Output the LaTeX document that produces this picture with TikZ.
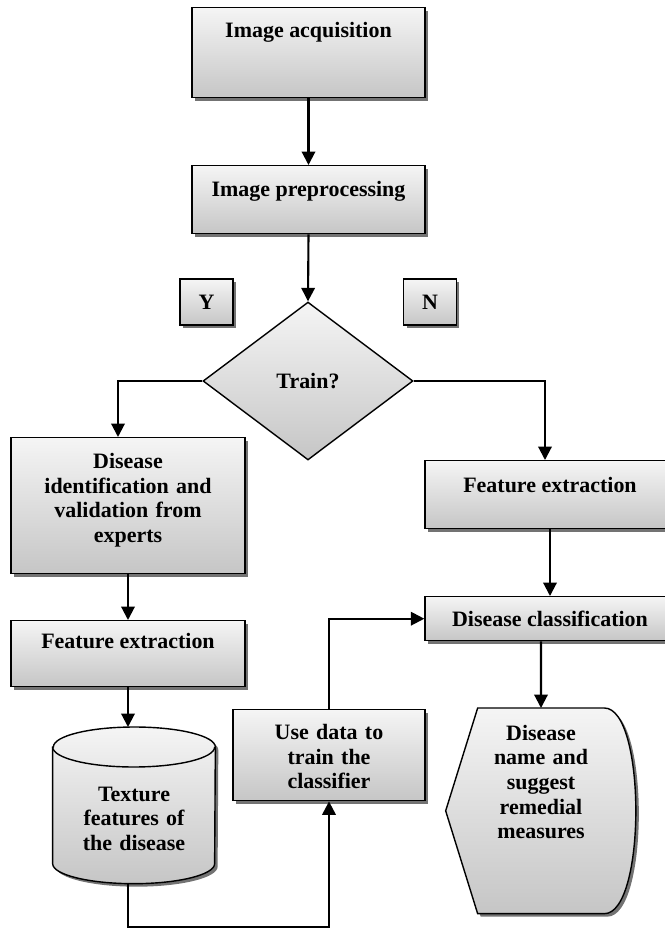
\documentclass[tikz,border=0pt]{standalone}
\usepackage{fontspec}
\setmainfont{Liberation Serif}
\usetikzlibrary{arrows.meta,shapes.geometric,shadows,backgrounds}

\begin{document}
\begin{tikzpicture}[
            x=0.02cm, y=-0.02cm,
            box/.style={
                rectangle,
                draw=black,
                line width=0.8pt,
                top color=gray!8,
                bottom color=gray!45,
                drop shadow={shadow xshift=0.06cm, shadow yshift=-0.06cm, fill=black!55, opacity=1},
                inner xsep=2pt,
                inner ysep=0pt,
                anchor=north,
                align=center,
                font=\bfseries\fontsize{12.5}{14}\selectfont
            },
            yn/.style={
                box,
                anchor=center,
                minimum width=1.06cm,
                minimum height=0.92cm
            },
            dec/.style={
                diamond,
                draw=black,
                line width=0.8pt,
                top color=gray!8,
                bottom color=gray!45,
                inner sep=0pt,
                minimum width=4.2cm,
                minimum height=3.16cm,
                aspect=1.33,
                font=\bfseries\fontsize{12.5}{14}\selectfont
            },
            bare/.style={
                rectangle,
                inner sep=0pt,
                anchor=north,
                align=center,
                font=\bfseries\fontsize{12.5}{14}\selectfont
            },
            outline/.style={
                line width=0.8pt,
                top color=gray!8,
                bottom color=gray!45,
                drop shadow={shadow xshift=0.06cm, shadow yshift=-0.06cm, fill=black!55, opacity=1}
            },
            line/.style={
                line width=1.2pt,
                -{Triangle[length=0.27cm,width=0.27cm]}
            }
        ]

        \useasboundingbox (0,0) rectangle (665,930);

        % nodes
        \node[box, minimum width=4.66cm, text height=0.6cm, text depth=1.2cm] (acq) at (308.5, 7) {Image acquisition};
        \node[box, minimum width=4.66cm, text height=0.62cm, text depth=0.74cm] (pre) at (308.5, 165) {Image preprocessing};
        \node[yn] (ybox) at (206.5, 302) {Y};
        \node[yn] (nbox) at (430, 302) {N};
        \node[dec] (train) at (308, 381) {Train?};
        \node[box, minimum width=4.68cm, text width=4.3cm, text height=0.62cm, text depth=2.1cm] (idexp) at (128, 437) {Disease\\identification and\\validation from\\experts};
        \node[box, minimum width=4.68cm, text height=0.56cm, text depth=0.76cm] (featl) at (128, 620) {Feature extraction};
        \node[bare, minimum width=3.24cm, text width=2.6cm, text height=1.48cm, text depth=1.64cm] (db) at (134, 727) {Texture\\features of\\the disease};
        \node[box, minimum width=3.84cm, text width=3.6cm, text height=0.6cm, text depth=1.22cm] (use) at (329, 709) {Use data to\\train the\\classifier};
        \node[box, minimum width=5cm, text height=0.64cm, text depth=0.72cm] (featr) at (550, 460) {Feature extraction};
        \node[box, minimum width=5cm, text height=0.6cm, text depth=0.28cm] (class) at (550, 596) {Disease classification};
        \node[bare, text width=2.52cm, text height=0.64cm, text depth=3.46cm] (res) at (541, 708) {Disease\\name and\\suggest\\remedial\\measures};

        % shapes behind the texts
        \begin{scope}[on background layer]
            % cylinder
            \draw[outline] ([yshift=-0.4cm]db.north west) -- ([yshift=0.4cm]db.south west)
                arc[start angle=180, end angle=360, x radius=1.62cm, y radius=0.4cm]
                -- ([yshift=-0.4cm]db.north east)
                arc[start angle=0, end angle=180, x radius=1.62cm, y radius=0.4cm] -- cycle;
            \draw[line width=0.8pt] ([yshift=-0.4cm]db.north west)
                arc[start angle=180, end angle=360, x radius=1.62cm, y radius=0.4cm];
            % display
            \draw[outline] (res.north west) -- (res.north east)
                .. controls ([xshift=0.84cm]res.north east) and ([xshift=0.84cm]res.south east) .. (res.south east)
                -- (res.south west) -- ([xshift=-0.64cm]res.west) -- cycle;
        \end{scope}

        % lines
        \draw[line] (acq.south) -- (pre.north);
        \draw[line] (pre.south) -- (train.north);
        \draw[line] (train.west) -| ([xshift=-0.2cm]idexp.north);
        \draw[line] (train.east) -| ([xshift=-0.1cm]featr.north);
        \draw[line] (idexp.south) -- (featl.north);
        \draw[line] (featl.south) -- (db.north -| featl.south);
        \draw[line] ([xshift=-0.12cm]db.south) -- ++(0, 43) -| (use.south);
        \draw[line] (use.north) |- (class.west);
        \draw[line] (featr.south) -- (class.north);
        \draw[line] ([xshift=-0.18cm]class.south) -- (res.north);
    \end{tikzpicture}
\end{document}
